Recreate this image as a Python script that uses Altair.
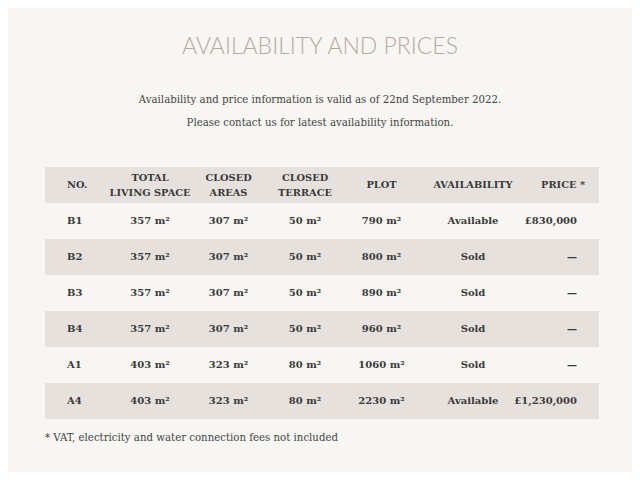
import altair as alt
import pandas as pd

# ---- data ----
row_ids = ["B1", "B2", "B3", "B4", "A1", "A4"]
living_space = ["357 m²", "357 m²", "357 m²", "357 m²", "403 m²", "403 m²"]
closed_areas = ["307 m²", "307 m²", "307 m²", "307 m²", "323 m²", "323 m²"]
closed_terrace = ["50 m²", "50 m²", "50 m²", "50 m²", "80 m²", "80 m²"]
plot_area = ["790 m²", "800 m²", "890 m²", "960 m²", "1060 m²", "2230 m²"]
availability = ["Available", "Sold", "Sold", "Sold", "Sold", "Available"]
price = ["£830,000", "—", "—", "—", "—", "£1,230,000"]

headers = ["NO.", "TOTAL\nLIVING SPACE", "CLOSED\nAREAS", "CLOSED\nTERRACE",
           "PLOT", "AVAILABILITY", "PRICE *"]
title_text = "AVAILABILITY AND PRICES"
subtitle_lines = ["Availability and price information is valid as of 22nd September 2022.",
                  "Please contact us for latest availability information."]
footnote = "* VAT, electricity and water connection fees not included"

# ---- layout (chart pixel coordinates) ----
W, H = 624, 464
col_x = [59, 142, 220.5, 297, 373.5, 465, 569]
col_align = ["left", "center", "center", "center", "center", "center", "right"]
header_x = [59, 142, 220.5, 297, 373.5, 465, 577]
shaded = ["header", "B2", "B4", "A4"]
row_order = ["header"] + row_ids

FONT = "DejaVu Serif"
BG = "#f8f6f3"
BAND = "#e7e1dd"
INK = "#3a3a3a"

xs = alt.Scale(domain=[0, W], range=[0, W])
ys_lin = alt.Scale(domain=[0, H], range=[0, H])
ys_band = alt.Scale(domain=row_order, range=[159, 411], paddingInner=0, paddingOuter=0)

# shaded bands
bands = alt.Chart(pd.DataFrame({"row": shaded})).mark_rect(color=BAND).encode(
    y=alt.Y("row:N", scale=ys_band, axis=None),
    x=alt.value(37), x2=alt.value(591),
)

# cells
cols = [row_ids, living_space, closed_areas, closed_terrace, plot_area, availability, price]
records = []
for ci, values in enumerate(cols):
    for ri, v in enumerate(values):
        records.append({"row": row_ids[ri], "text": v, "x": col_x[ci], "align": col_align[ci]})
cells_df = pd.DataFrame(records)

layers = [bands]
for al in ["left", "center", "right"]:
    sub = cells_df[cells_df["align"] == al]
    layers.append(
        alt.Chart(sub).mark_text(font=FONT, fontSize=10, fontWeight="bold", color=INK,
                                 align=al, baseline="middle").encode(
            x=alt.X("x:Q", scale=xs, axis=None),
            y=alt.Y("row:N", scale=ys_band, axis=None),
            text="text:N",
        )
    )

hdr_df = pd.DataFrame({"row": ["header"] * len(headers), "text": headers,
                       "x": header_x, "align": col_align})
hdr_df["multi"] = hdr_df["text"].str.contains("\n")
for al in ["left", "center", "right"]:
    for multi in [False, True]:
        sub = hdr_df[(hdr_df["align"] == al) & (hdr_df["multi"] == multi)]
        if len(sub) == 0:
            continue
        layers.append(
            alt.Chart(sub).mark_text(font=FONT, fontSize=9.8, fontWeight="bold", color=INK,
                                     align=al, baseline="middle", lineBreak="\n",
                                     lineHeight=15, dy=-7.5 if multi else 0).encode(
                x=alt.X("x:Q", scale=xs, axis=None),
                y=alt.Y("row:N", scale=ys_band, axis=None),
                text="text:N",
            )
        )

# title
layers.append(
    alt.Chart(pd.DataFrame({"t": [title_text], "x": [W / 2], "y": [39]})).mark_text(
        font="Lato", fontSize=23, fontWeight=300, color="#b7a99f", align="center",
        baseline="middle").encode(
        x=alt.X("x:Q", scale=xs, axis=None), y=alt.Y("y:Q", scale=ys_lin, axis=None),
        text="t:N")
)
# subtitle
layers.append(
    alt.Chart(pd.DataFrame({"t": subtitle_lines, "x": [W / 2, W / 2], "y": [92, 115]})).mark_text(
        font=FONT, fontSize=10.2, color="#444444", align="center", baseline="middle").encode(
        x=alt.X("x:Q", scale=xs, axis=None), y=alt.Y("y:Q", scale=ys_lin, axis=None),
        text="t:N")
)
# footnote
layers.append(
    alt.Chart(pd.DataFrame({"t": [footnote], "x": [37], "y": [430]})).mark_text(
        font=FONT, fontSize=10.2, color="#444444", align="left", baseline="middle").encode(
        x=alt.X("x:Q", scale=xs, axis=None), y=alt.Y("y:Q", scale=ys_lin, axis=None),
        text="t:N")
)

chart = alt.layer(*layers).resolve_scale(y="independent").properties(
    width=W, height=H, padding=0, autosize=alt.AutoSizeParams(type="none"),
    background=BG,
).configure_view(stroke=None)

chart.save("out.html", embed_options={"renderer": "svg", "actions": False})
